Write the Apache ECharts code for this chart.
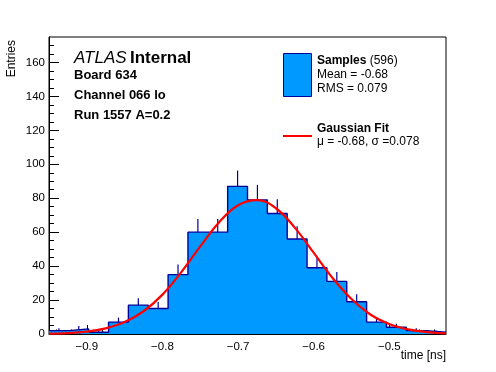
<!DOCTYPE html>
<html><head><meta charset="utf-8">
<script src="https://cdn.jsdelivr.net/npm/echarts@6/dist/echarts.min.js"></script>
<style>html,body{margin:0;padding:0;background:#fff}#c{width:496px;height:372px}</style>
</head><body><div id="c"></div>
<script>
const xMin = -0.95, xMax = -0.425;
const yMin = 0, yMax = 175;
const counts = [2, 3, 1, 7, 17, 15, 35, 60, 60, 87, 79, 71, 56, 39, 31, 19, 7, 4, 2, 1];
const xTickValues = [-0.9, -0.8, -0.7, -0.6, -0.5];
const xTickLabels = ['−0.9', '−0.8', '−0.7', '−0.6', '−0.5'];
const xMinorValues = [-0.94,-0.92,-0.88,-0.86,-0.84,-0.82,-0.78,-0.76,-0.74,-0.72,-0.68,-0.66,-0.64,-0.62,-0.58,-0.56,-0.54,-0.52,-0.48,-0.46,-0.44];
const yTickValues = [0, 20, 40, 60, 80, 100, 120, 140, 160];
const yMinorValues = [5,10,15,25,30,35,45,50,55,65,70,75,85,90,95,105,110,115,125,130,135,145,150,155,165,170];
const fitX = [-0.95,-0.925,-0.9,-0.875,-0.85,-0.825,-0.8,-0.775,-0.75,-0.725,-0.7,-0.675,-0.65,-0.625,-0.6,-0.575,-0.55,-0.525,-0.5,-0.475,-0.45,-0.425];
const fitY = [0.2,0.5,1.4,3.3,7.0,13.4,23.2,36.5,51.6,65.9,75.9,78.9,74.1,62.7,47.9,33.0,20.6,11.5,5.9,2.7,1.1,0.4];

const FONT = "'Liberation Sans', Arial, Helvetica, sans-serif";
const FILL = '#0099ff', EDGE = '#000099';
const nb = counts.length, bw = (xMax - xMin) / nb;
const stepData = counts.map((c, i) => [xMin + i * bw, c]);
stepData.push([xMax, counts[nb - 1]]);
const errData = counts.map((c, i) => [xMin + (i + 0.5) * bw, c]);
const fitData = fitX.map((x, i) => [x, fitY[i]]);

const chart = echarts.init(document.getElementById('c'), null, {renderer: 'canvas'});
chart.setOption({
  animation: false,
  backgroundColor: '#fff',
  grid: {left: 49, right: 50, top: 37, bottom: 38, show: true, borderColor: '#000', borderWidth: 1, backgroundColor: 'transparent'},
  xAxis: [
    {type: 'value', min: xMin, max: xMax, splitLine: {show: false},
     axisLine: {show: true, onZero: false, lineStyle: {color: '#000', width: 1}},
     axisTick: {show: true, inside: true, length: 9, customValues: xTickValues, lineStyle: {color: '#000'}},
     axisLabel: {customValues: xTickValues, formatter: v => xTickLabels[xTickValues.findIndex(t => Math.abs(t - v) < 1e-9)] || '', color: '#000', fontSize: 11.5, fontFamily: FONT, margin: 7}},
    {type: 'value', min: xMin, max: xMax, position: 'bottom', splitLine: {show: false},
     axisLine: {show: false},
     axisTick: {show: true, inside: true, length: 4.5, customValues: xMinorValues, lineStyle: {color: '#000'}},
     axisLabel: {show: false}}
  ],
  yAxis: [
    {type: 'value', min: yMin, max: yMax, splitLine: {show: false},
     axisLine: {show: true, onZero: false, lineStyle: {color: '#000', width: 1}},
     axisTick: {show: true, inside: true, length: 10, customValues: yTickValues, lineStyle: {color: '#000'}},
     axisLabel: {customValues: yTickValues, color: '#000', fontSize: 11.5, fontFamily: FONT, margin: 4}},
    {type: 'value', min: yMin, max: yMax, position: 'left', splitLine: {show: false},
     axisLine: {show: false},
     axisTick: {show: true, inside: true, length: 5, customValues: yMinorValues, lineStyle: {color: '#000'}},
     axisLabel: {show: false}}
  ],
  series: [
    {type: 'line', data: stepData, step: 'end', symbol: 'none', xAxisIndex: 0, yAxisIndex: 0,
     lineStyle: {color: EDGE, width: 1.4}, areaStyle: {color: FILL, opacity: 1, origin: 'start'}, z: 2},
    {type: 'custom', data: errData, xAxisIndex: 0, yAxisIndex: 0, z: 3,
     renderItem: (params, api) => {
       const x = api.value(0), c = api.value(1);
       const p0 = api.coord([x, c]), p1 = api.coord([x, c + Math.sqrt(c)]);
       return {type: 'line', shape: {x1: p0[0], y1: p0[1], x2: p1[0], y2: p1[1]}, style: {stroke: EDGE, lineWidth: 1.2}};
     }},
    {type: 'line', data: fitData, smooth: 0.4, symbol: 'none', xAxisIndex: 0, yAxisIndex: 0,
     lineStyle: {color: '#ff0000', width: 2.2}, z: 4}
  ],
  graphic: [
    {type: 'text', x: 12, y: 40, rotation: Math.PI / 2, style: {text: 'Entries', align: 'right', verticalAlign: 'middle', fontSize: 12, fontFamily: FONT, fill: '#000'}},
    {type: 'text', x: 446, y: 350, style: {text: 'time [ns]', align: 'right', verticalAlign: 'top', fontSize: 12, fontFamily: FONT, fill: '#000'}},
    {type: 'text', x: 74, y: 67, style: {text: '{i|ATLAS} {b|Internal}', verticalAlign: 'bottom', rich: {
      i: {fontStyle: 'italic', fontSize: 17, fontFamily: FONT, fill: '#000'},
      b: {fontWeight: 'bold', fontSize: 17, fontFamily: FONT, fill: '#000'}}}},
    {type: 'text', x: 74, y: 82, style: {text: 'Board 634', verticalAlign: 'bottom', fontWeight: 'bold', fontSize: 13, fontFamily: FONT, fill: '#000'}},
    {type: 'text', x: 74, y: 102, style: {text: 'Channel 066 lo', verticalAlign: 'bottom', fontWeight: 'bold', fontSize: 13, fontFamily: FONT, fill: '#000'}},
    {type: 'text', x: 74, y: 122, style: {text: 'Run 1557 A=0.2', verticalAlign: 'bottom', fontWeight: 'bold', fontSize: 13, fontFamily: FONT, fill: '#000'}},
    {type: 'rect', shape: {x: 283.5, y: 53.5, width: 28, height: 43}, style: {fill: FILL, stroke: EDGE, lineWidth: 1}},
    {type: 'text', x: 317, y: 67, style: {text: '{b|Samples} {n|(596)}', verticalAlign: 'bottom', rich: {
      b: {fontWeight: 'bold', fontSize: 12, fontFamily: FONT, fill: '#000'},
      n: {fontSize: 12, fontFamily: FONT, fill: '#000'}}}},
    {type: 'text', x: 317, y: 81, style: {text: 'Mean = -0.68', verticalAlign: 'bottom', fontSize: 12, fontFamily: FONT, fill: '#000'}},
    {type: 'text', x: 317, y: 95, style: {text: 'RMS = 0.079', verticalAlign: 'bottom', fontSize: 12, fontFamily: FONT, fill: '#000'}},
    {type: 'line', shape: {x1: 283, y1: 136, x2: 312, y2: 136}, style: {stroke: '#ff0000', lineWidth: 2}},
    {type: 'text', x: 317, y: 135, style: {text: 'Gaussian Fit', verticalAlign: 'bottom', fontWeight: 'bold', fontSize: 12, fontFamily: FONT, fill: '#000'}},
    {type: 'text', x: 317, y: 148, style: {text: 'μ = -0.68, σ =0.078', verticalAlign: 'bottom', fontSize: 12, fontFamily: FONT, fill: '#000'}}
  ]
});
</script></body></html>
